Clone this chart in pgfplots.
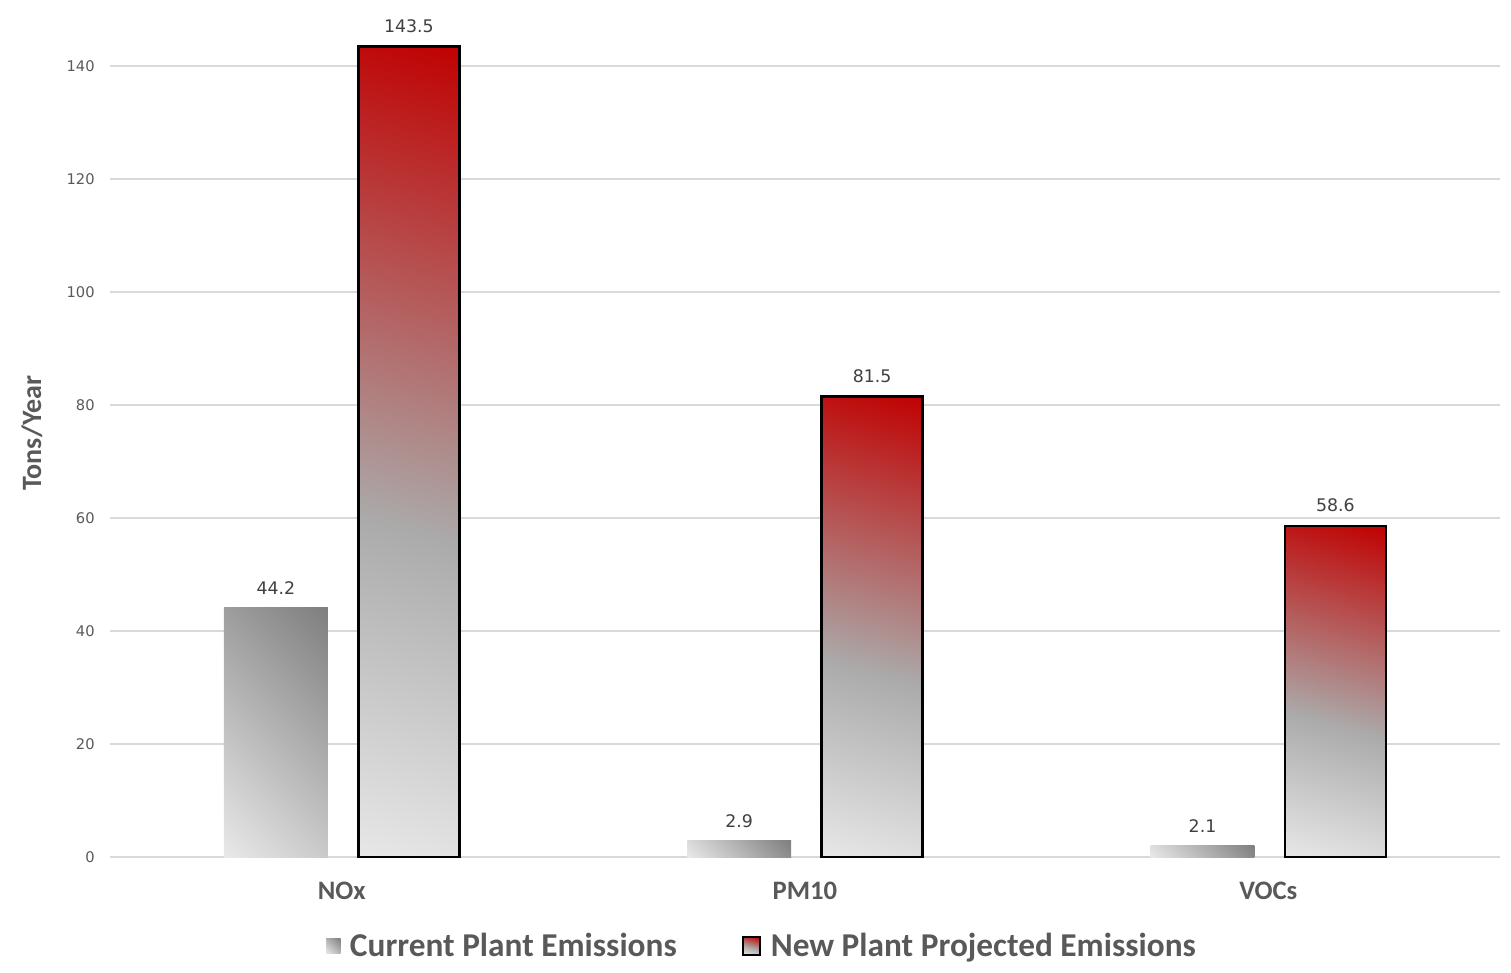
\documentclass[border=0pt]{standalone}
\usepackage{pgfplots}
\pgfplotsset{compat=1.18}
\usepackage{fontspec}
\setmainfont{Carlito}
\newfontfamily\dejavu{DejaVu Sans}

\definecolor{gridgray}{HTML}{D9D9D9}
\definecolor{labelgray}{HTML}{595959}
\definecolor{valgray}{HTML}{404040}
\definecolor{lowgray}{HTML}{E8E8E8}
\definecolor{midgray}{HTML}{ABABAB}
\definecolor{darkgray}{HTML}{7F7F7F}
\definecolor{topred}{HTML}{C00000}

% bar fills: shading box is 100bp, the bar maps onto the middle, the corners
% of a rotated bar reach further out, hence the stops
\pgfdeclareverticalshading{grayfade}{100bp}{color(0bp)=(lowgray); color(15bp)=(lowgray); color(85bp)=(darkgray); color(100bp)=(darkgray)}
\pgfdeclareverticalshading{redfade}{100bp}{color(0bp)=(lowgray); color(19bp)=(lowgray); color(44bp)=(midgray); color(81bp)=(topred); color(100bp)=(topred)}

% one \addplot per bar so each bar gets its own shading
\pgfplotsset{
    curbar/.style={ybar, bar width=0.224, bar shift=0, draw=none,
        shading=grayfade, shading angle=-45},
    newbar/.style={ybar, bar width=0.218, bar shift=0, draw=black, line width=2pt,
        shading=redfade, shading angle=-15},
}

\begin{document}
\begin{tikzpicture}
\begin{axis}[
    scale only axis,
    width=1042.5pt,
    height=635.6pt,
    xmin=-0.5, xmax=2.5,
    ymin=0, ymax=150,
    axis line style={draw=none},
    ytick={0,20,...,140},
    xtick={0,1,2},
    xticklabels={NOx,PM10,VOCs},
    ymajorgrids,
    grid style={gridgray, line width=1.5pt},
    major tick length=0pt,
    /pgf/number format/assume math mode=true,
    yticklabel style={font=\dejavu\fontsize{11}{13}\selectfont, text=labelgray, xshift=-8pt},
    xticklabel style={font=\bfseries\fontsize{20}{22}\selectfont, text=labelgray, yshift=-15pt},
    ylabel={Tons/Year},
    every axis y label/.style={at={(rel axis cs:0,0.5)}, xshift=-58.5pt, rotate=90, anchor=center,
        font=\bfseries\fontsize{21}{24}\selectfont, text=labelgray},
    nodes near coords={\pgfmathprintnumber[fixed,fixed zerofill,precision=1]{\pgfplotspointmeta}},
    every node near coord/.append style={font=\dejavu\fontsize{13}{15}\selectfont, text=valgray, yshift=6pt},
    legend style={at={(axis description cs:0.5,0)}, anchor=center, xshift=-32pt, yshift=-66.75pt,
        draw=none, fill=none, legend columns=2,
        font=\bfseries\fontsize{25}{28}\selectfont, text=labelgray,
        /tikz/every odd column/.append style={column sep=5pt},
        /tikz/every even column/.append style={column sep=47pt}},
]

\addplot[curbar,
    legend image code/.code={\path[shading=grayfade, shading angle=-45] (0pt,-5.5pt) rectangle (11pt,5.5pt);}]
    coordinates {(-0.142,44.2)};
\addlegendentry{Current Plant Emissions}

\addplot[newbar,
    legend image code/.code={\draw[black, line width=1.5pt, shading=redfade, shading angle=-15] (0pt,-6.5pt) rectangle (13pt,6.5pt);}]
    coordinates {(0.145,143.5)};
\addlegendentry{New Plant Projected Emissions}

\addplot[curbar, forget plot] coordinates {(0.858,2.9)};
\addplot[newbar, forget plot] coordinates {(1.145,81.5)};
\addplot[curbar, forget plot] coordinates {(1.858,2.1)};
\addplot[newbar, forget plot] coordinates {(2.145,58.6)};

\end{axis}
\pgfresetboundingbox
\path (current axis.south west) ++(-82.5pt,-86.25pt) rectangle ++(1133.25pt,729pt);
\end{tikzpicture}
\end{document}
